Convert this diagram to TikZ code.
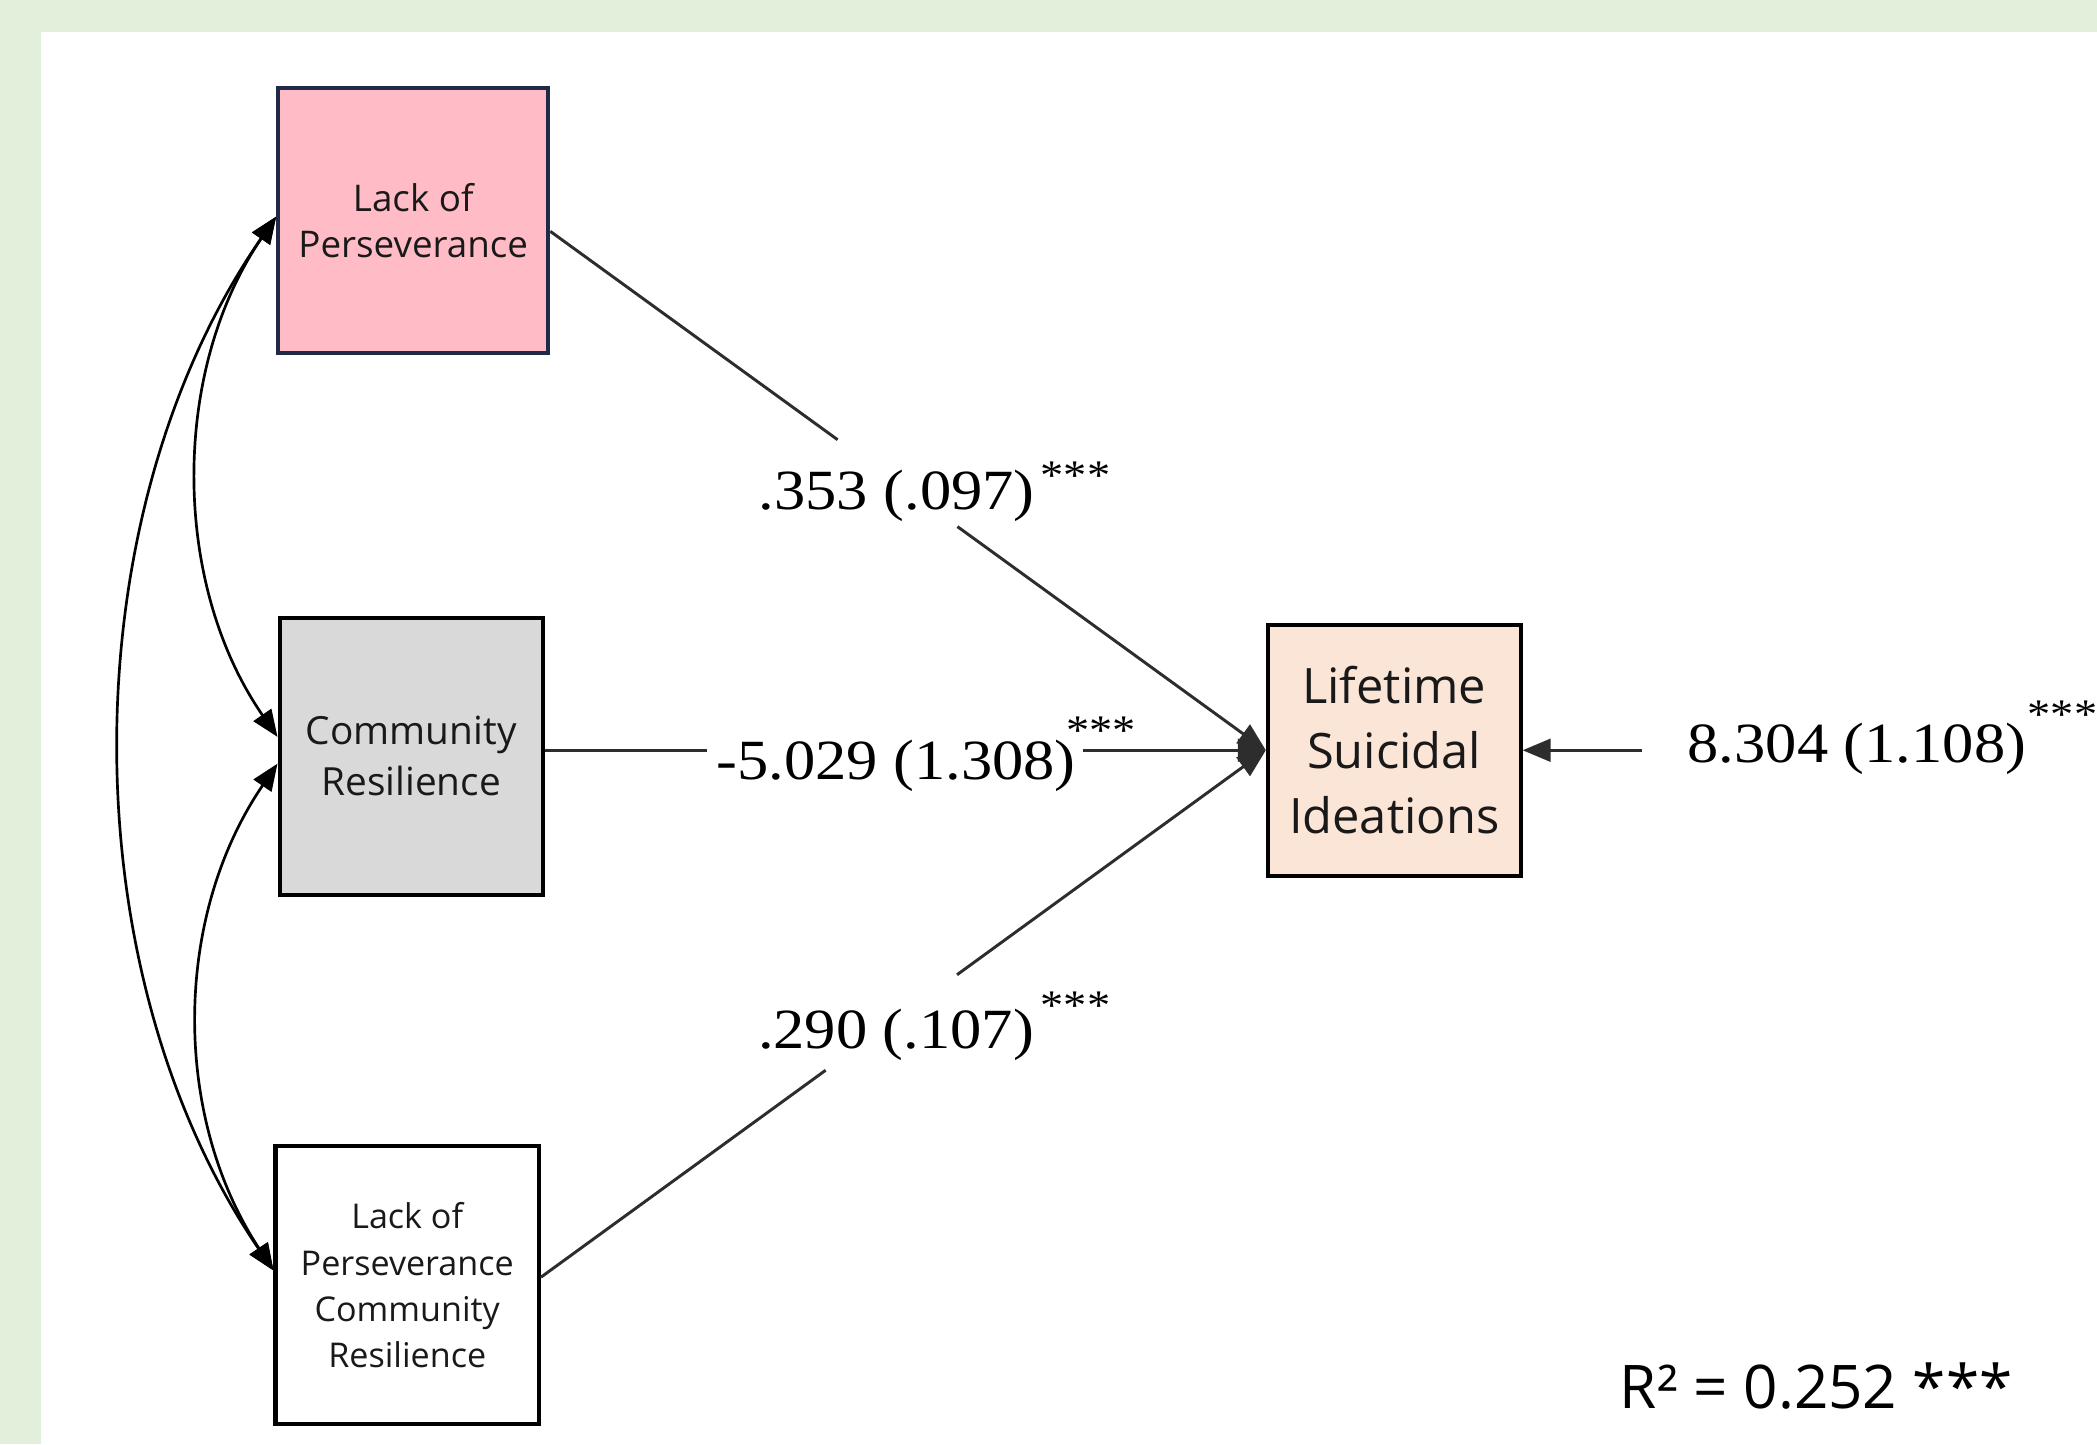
\documentclass[tikz,border=0pt]{standalone}
\usepackage{fontspec}
\setmainfont{Liberation Serif}[FakeStretch=1.1]
\newfontfamily\osans{Open Sans}
\usetikzlibrary{arrows.meta,calc}
\definecolor{bggreen}{RGB}{226,239,218}
\definecolor{pinkfill}{RGB}{255,188,198}
\definecolor{navyline}{RGB}{30,42,70}
\definecolor{grayfill}{RGB}{217,217,217}
\definecolor{peachfill}{RGB}{251,229,214}
\definecolor{linecol}{RGB}{45,45,45}
\begin{document}
\begin{tikzpicture}[x=1pt,y=1pt,
  box/.style={draw=black, line width=3pt, inner sep=0pt, align=center, text=black!90},
  conn/.style={draw=linecol, line width=2.2pt},
  tipend/.style={-{Triangle[length=21pt,width=17pt]}},
  dtip/.style={{Triangle[length=20pt,width=16pt]}-{Triangle[length=20pt,width=16pt]}},
  curv/.style={draw=black, line width=2pt},
  coef/.style={font=\fontsize{42.5}{50}\selectfont, inner sep=0pt, anchor=base},
  stars/.style={font=\fontsize{31.5}{36}\selectfont, inner sep=0pt, anchor=base west}]
\useasboundingbox (0,0) rectangle (1568,1080);
\fill[bggreen] (0,0) rectangle (1568,1080);
\fill[white] (31,0) rectangle (1568,1056);

% boxes
\node[box, draw=navyline, fill=pinkfill, minimum width=202pt, minimum height=198pt,
      font=\osans\fontsize{27.5}{35}\selectfont] (b1) at (309,915) {Lack of\\Perseverance};
\node[box, fill=grayfill, minimum width=197pt, minimum height=207pt,
      font=\osans\fontsize{29}{38}\selectfont] (b2) at (307.5,514.5) {Community\\Resilience};
\node[box, fill=white, minimum width=197pt, minimum height=208pt,
      font=\osans\fontsize{25.5}{34.5}\selectfont] (b3) at (304.5,119) {Lack of\\Perseverance\\Community\\Resilience};
\node[box, fill=peachfill, minimum width=189pt, minimum height=188pt,
      font=\osans\fontsize{36.5}{48.5}\selectfont] (b4) at (1042.5,519) {Lifetime\\Suicidal\\Ideations};

% path endpoints and label gaps
\coordinate (s1) at ([yshift=-8pt]b1.east);
\coordinate (s2) at (b2.east |- b4.west);
\coordinate (s3) at ([yshift=6pt]b3.east);
\coordinate (g1a) at ($(s1)!0.4015!(b4.west)$);
\coordinate (g1b) at ($(s1)!0.569!(b4.west)$);
\coordinate (g2a) at ($(s2)!0.225!(b4.west)$);
\coordinate (g2b) at ($(s2)!0.747!(b4.west)$);
\coordinate (g3a) at ($(s3)!0.3927!(b4.west)$);
\coordinate (g3b) at ($(s3)!0.574!(b4.west)$);

\draw[conn] (s1) -- (g1a);
\draw[conn, tipend] (g1b) -- (b4.west);
\draw[conn] (s2) -- (g2a);
\draw[conn, tipend] (g2b) -- (b4.west);
\draw[conn] (s3) -- (g3a);
\draw[conn, tipend] (g3b) -- (b4.west);

% residual
\coordinate (r0) at (1228,519);
\draw[conn, tipend] (r0) -- (b4.east);

% coefficient labels
\node[coef] (l1) at (670.5,699) {.353 (.097)};
\node[stars] (t1) at (778,714) {***};
\node[coef] (l2) at (670,497) {-5.029 (1.308)};
\node[stars] (t2) at (797,523) {***};
\node[coef] (l3) at (670,296) {.290 (.107)};
\node[stars] (t3) at (778,318) {***};
\node[coef] (l4) at (1388.5,510) {8.304 (1.108)};
\node[stars] (t4) at (1516,535) {***};

% covariances
\draw[curv, dtip] ([yshift=3pt]b1.west) .. controls (128,803) and (128,644) .. ([yshift=14.5pt]b2.west);
\draw[curv, dtip] ([yshift=-5.5pt]b2.west) .. controls (129,394) and (129,245) .. ([yshift=11pt]b3.west);
\draw[curv, dtip] ([yshift=3pt]b1.west) .. controls (51.5,694) and (51.5,354) .. ([yshift=11pt]b3.west);

% R squared
\node[font=\osans\fontsize{45}{54}\selectfont, inner sep=0pt, anchor=base west] (rsq) at (1211,27) {R² = 0.252 ***};
\end{tikzpicture}
\end{document}
